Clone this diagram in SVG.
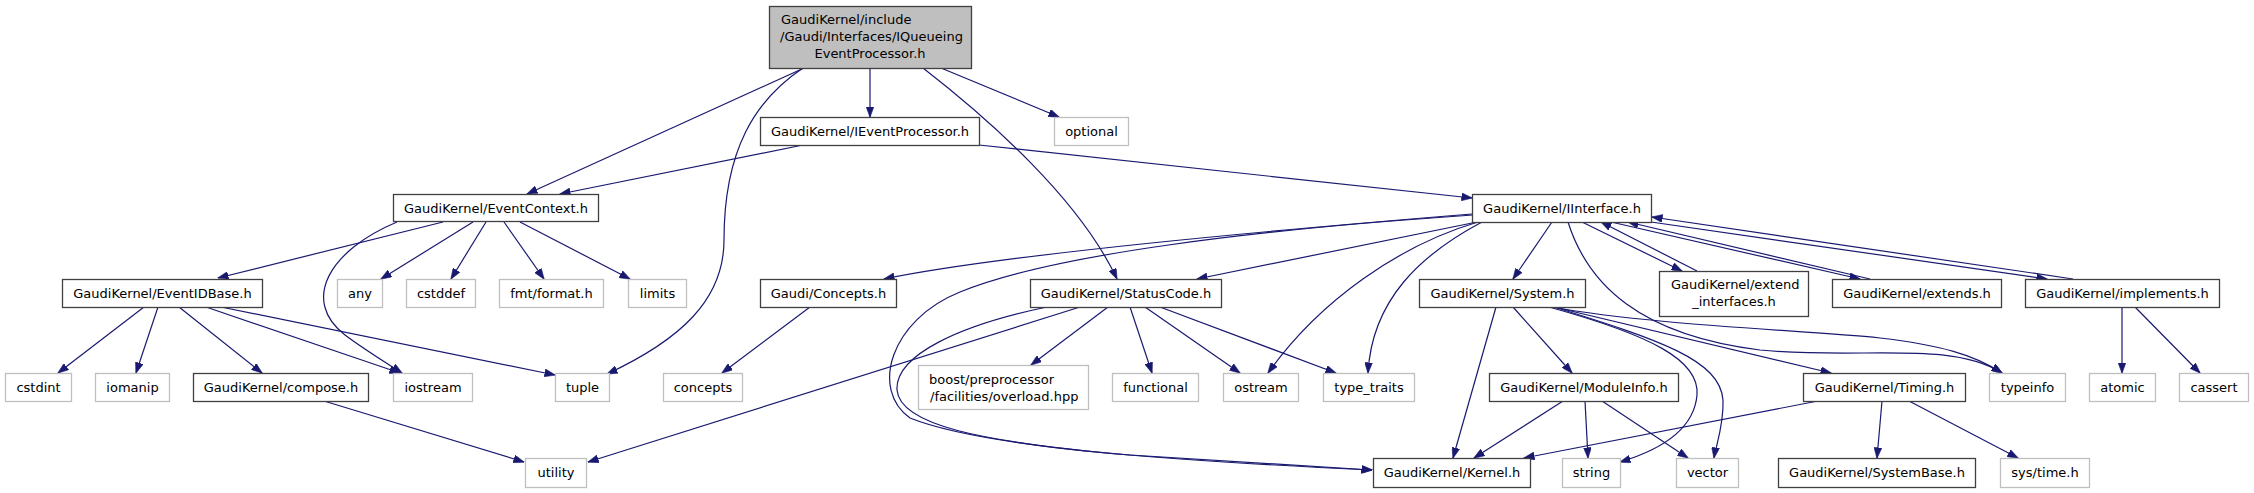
<svg xmlns="http://www.w3.org/2000/svg" width="2254" height="493" viewBox="0 0 2254 493">
<defs>
<marker id="arr" markerUnits="userSpaceOnUse" markerWidth="11" markerHeight="8" viewBox="0 0 11 8" refX="10.5" refY="4" orient="auto">
<path d="M0,0 L11,4 L0,8 z" fill="#191970" stroke="#191970" stroke-width="0.5"/>
</marker>
</defs>
<style>
.doc rect{fill:#ffffff;stroke:#404040;stroke-width:1.3}
.ext rect{fill:#ffffff;stroke:#bfbfbf;stroke-width:1.3}
.main rect{fill:#bfbfbf;stroke:#404040;stroke-width:1.3}
text{font-family:"DejaVu Sans","Liberation Sans",sans-serif;font-size:13px;fill:#000000}
.c{text-anchor:middle}
.l{text-anchor:start}
#edges path{fill:none;stroke:#191970;stroke-width:1.2;marker-end:url(#arr)}
</style>
<rect x="0" y="0" width="2254" height="493" fill="#ffffff"/>
<g id="edges">
<path d="M870,68 L870,117"/>
<path d="M941,68 L1059,117"/>
<path d="M923,68 C990,120 1080,200 1117,279"/>
<path d="M804,68 L527,194"/>
<path d="M803,68 C755,100 724,150 724,240 C724,300 680,340 607,374"/>
<path d="M803,145 L560,194"/>
<path d="M979,145 L1472,198"/>
<path d="M1472,214 C1250,232 1000,255 884,279"/>
<path d="M1473,215 C1250,230 1050,255 960,292 C890,320 870,390 910,418 C990,450 1200,462 1372,470"/>
<path d="M1047,307 C960,325 895,355 897,390 C900,425 980,442 1130,455 C1250,463 1330,467 1372,470"/>
<path d="M1477,222 L1197,279"/>
<path d="M1478,222 C1400,245 1320,300 1268,373"/>
<path d="M1482,222 C1420,255 1372,300 1368,373"/>
<path d="M1552,222 L1513,279"/>
<path d="M1568,222 C1588,285 1640,335 1760,350 C1860,360 1950,340 2002,373"/>
<path d="M1552,307 C1650,325 1800,330 1880,338 C1940,345 1975,355 2002,373"/>
<path d="M1554,307 L1831,373"/>
<path d="M1549,307 C1650,335 1700,360 1697,395 C1694,430 1660,450 1620,462"/>
<path d="M1554,307 C1660,340 1720,360 1723,400 C1724,425 1716,445 1714,458"/>
<path d="M1496,307 L1453,458"/>
<path d="M1513,307 L1572,373"/>
<path d="M1563,401 L1474,458"/>
<path d="M1585,401 L1588,458"/>
<path d="M1602,401 L1688,458"/>
<path d="M1818,401 L1524,458"/>
<path d="M1882,401 L1877,458"/>
<path d="M1909,401 L2018,458"/>
<path d="M1582,222 L1682,271"/>
<path d="M1697,271 L1601,222"/>
<path d="M1611,222 L1860,279"/>
<path d="M1870,279 L1628,222"/>
<path d="M1651,222 L2047,279"/>
<path d="M2073,279 L1652,217"/>
<path d="M2122,307 L2122,373"/>
<path d="M2135,307 L2200,373"/>
<path d="M1108,307 L1031,365"/>
<path d="M1130,307 L1152,373"/>
<path d="M1145,307 L1240,373"/>
<path d="M1160,307 L1336,373"/>
<path d="M1080,307 L588,462"/>
<path d="M443,222 L218,278"/>
<path d="M397,222 C330,250 300,300 345,335 C365,350 385,362 402,373"/>
<path d="M473,222 L381,279"/>
<path d="M486,222 L451,279"/>
<path d="M504,222 L544,279"/>
<path d="M520,222 L630,279"/>
<path d="M144,307 L58,373"/>
<path d="M158,307 L136,373"/>
<path d="M179,307 L262,373"/>
<path d="M206,307 L400,373"/>
<path d="M221,307 L555,375"/>
<path d="M324,401 L524,462"/>
<path d="M810,307 L722,373"/>
</g>
<g id="node-main" class="main"><rect x="769.5" y="6.5" width="202" height="62"/><text class="l" x="781" y="24">GaudiKernel/include</text><text class="l" x="780" y="41">/Gaudi/Interfaces/IQueueing</text><text class="c" x="870" y="58">EventProcessor.h</text></g>
<g id="node-IEventProcessor" class="doc"><rect x="760.5" y="117.5" width="219" height="28"/><text class="c" x="870" y="136">GaudiKernel/IEventProcessor.h</text></g>
<g id="node-optional" class="ext"><rect x="1054.5" y="117.5" width="74" height="28"/><text class="c" x="1091.5" y="136">optional</text></g>
<g id="node-EventContext" class="doc"><rect x="393.5" y="194.5" width="205" height="27"/><text class="c" x="496" y="212.5">GaudiKernel/EventContext.h</text></g>
<g id="node-IInterface" class="doc"><rect x="1472.5" y="194.5" width="179" height="28"/><text class="c" x="1562" y="213">GaudiKernel/IInterface.h</text></g>
<g id="node-EventIDBase" class="doc"><rect x="62.5" y="279.5" width="200" height="28"/><text class="c" x="162.5" y="298">GaudiKernel/EventIDBase.h</text></g>
<g id="node-any" class="ext"><rect x="337.5" y="279.5" width="45" height="28"/><text class="c" x="360" y="298">any</text></g>
<g id="node-cstddef" class="ext"><rect x="406.5" y="279.5" width="69" height="28"/><text class="c" x="441" y="298">cstddef</text></g>
<g id="node-fmtformat" class="ext"><rect x="499.5" y="279.5" width="104" height="28"/><text class="c" x="551.5" y="298">fmt/format.h</text></g>
<g id="node-limits" class="ext"><rect x="628.5" y="279.5" width="58" height="28"/><text class="c" x="657.5" y="298">limits</text></g>
<g id="node-Concepts" class="doc"><rect x="760.5" y="279.5" width="136" height="28"/><text class="c" x="828.5" y="298">Gaudi/Concepts.h</text></g>
<g id="node-StatusCode" class="doc"><rect x="1030.5" y="279.5" width="191" height="28"/><text class="c" x="1126" y="298">GaudiKernel/StatusCode.h</text></g>
<g id="node-System" class="doc"><rect x="1419.5" y="279.5" width="166" height="28"/><text class="c" x="1502.5" y="298">GaudiKernel/System.h</text></g>
<g id="node-extend_interfaces" class="doc"><rect x="1659.5" y="271.5" width="149" height="45"/><text class="l" x="1671" y="288.5">GaudiKernel/extend</text><text class="c" x="1734" y="305.5">_interfaces.h</text></g>
<g id="node-extends" class="doc"><rect x="1832.5" y="279.5" width="169" height="28"/><text class="c" x="1917" y="298">GaudiKernel/extends.h</text></g>
<g id="node-implements" class="doc"><rect x="2025.5" y="279.5" width="194" height="28"/><text class="c" x="2122.5" y="298">GaudiKernel/implements.h</text></g>
<g id="node-cstdint" class="ext"><rect x="5.5" y="373.5" width="66" height="28"/><text class="c" x="38.5" y="392">cstdint</text></g>
<g id="node-iomanip" class="ext"><rect x="95.5" y="373.5" width="74" height="28"/><text class="c" x="132.5" y="392">iomanip</text></g>
<g id="node-compose" class="doc"><rect x="193.5" y="373.5" width="175" height="28"/><text class="c" x="281" y="392">GaudiKernel/compose.h</text></g>
<g id="node-iostream" class="ext"><rect x="393.5" y="373.5" width="79" height="28"/><text class="c" x="433" y="392">iostream</text></g>
<g id="node-tuple" class="ext"><rect x="555.5" y="373.5" width="54" height="28"/><text class="c" x="582.5" y="392">tuple</text></g>
<g id="node-concepts" class="ext"><rect x="663.5" y="373.5" width="79" height="28"/><text class="c" x="703" y="392">concepts</text></g>
<g id="node-boost" class="ext"><rect x="918.5" y="365.5" width="170" height="44"/><text class="l" x="929" y="383.5">boost/preprocessor</text><text class="l" x="930" y="400.5">/facilities/overload.hpp</text></g>
<g id="node-functional" class="ext"><rect x="1112.5" y="373.5" width="86" height="28"/><text class="c" x="1155.5" y="392">functional</text></g>
<g id="node-ostream" class="ext"><rect x="1223.5" y="373.5" width="75" height="28"/><text class="c" x="1261" y="392">ostream</text></g>
<g id="node-type_traits" class="ext"><rect x="1323.5" y="373.5" width="91" height="28"/><text class="c" x="1369" y="392">type_traits</text></g>
<g id="node-ModuleInfo" class="doc"><rect x="1489.5" y="373.5" width="189" height="28"/><text class="c" x="1584" y="392">GaudiKernel/ModuleInfo.h</text></g>
<g id="node-Timing" class="doc"><rect x="1803.5" y="373.5" width="162" height="28"/><text class="c" x="1884.5" y="392">GaudiKernel/Timing.h</text></g>
<g id="node-typeinfo" class="ext"><rect x="1989.5" y="373.5" width="76" height="28"/><text class="c" x="2027.5" y="392">typeinfo</text></g>
<g id="node-atomic" class="ext"><rect x="2089.5" y="373.5" width="66" height="28"/><text class="c" x="2122.5" y="392">atomic</text></g>
<g id="node-cassert" class="ext"><rect x="2179.5" y="373.5" width="69" height="28"/><text class="c" x="2214" y="392">cassert</text></g>
<g id="node-utility" class="ext"><rect x="525.5" y="458.5" width="61" height="29"/><text class="c" x="556" y="477">utility</text></g>
<g id="node-Kernel" class="doc"><rect x="1373.5" y="458.5" width="157" height="29"/><text class="c" x="1452" y="477">GaudiKernel/Kernel.h</text></g>
<g id="node-string" class="ext"><rect x="1562.5" y="458.5" width="58" height="29"/><text class="c" x="1591.5" y="477">string</text></g>
<g id="node-vector" class="ext"><rect x="1676.5" y="458.5" width="62" height="29"/><text class="c" x="1707.5" y="477">vector</text></g>
<g id="node-SystemBase" class="doc"><rect x="1778.5" y="458.5" width="197" height="29"/><text class="c" x="1877" y="477">GaudiKernel/SystemBase.h</text></g>
<g id="node-systime" class="ext"><rect x="2000.5" y="458.5" width="89" height="29"/><text class="c" x="2045" y="477">sys/time.h</text></g>
</svg>
